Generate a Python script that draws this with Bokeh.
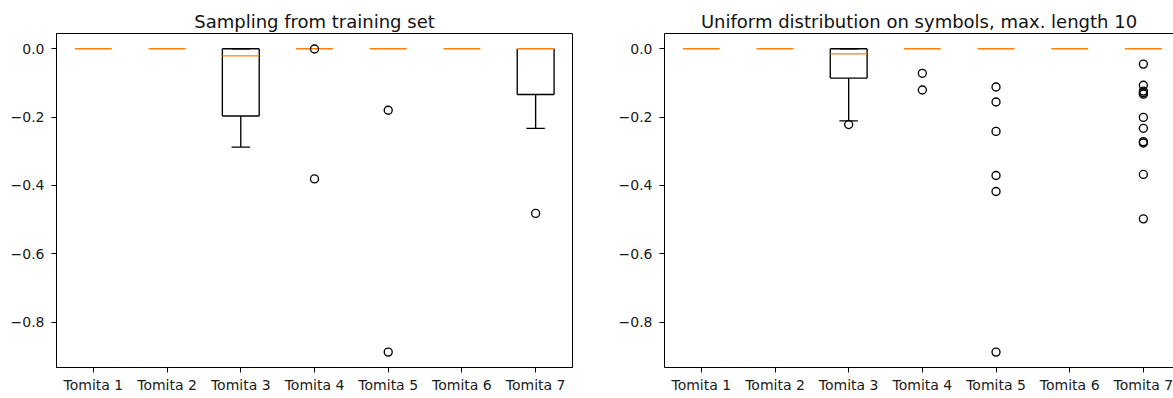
from bokeh.plotting import figure
from bokeh.layouts import row
from bokeh.models import FixedTicker, LinearAxis, Range1d
from bokeh.embed import file_html
from bokeh.resources import INLINE

# ---------------- data ----------------
categories = ["Tomita 1", "Tomita 2", "Tomita 3", "Tomita 4", "Tomita 5", "Tomita 6", "Tomita 7"]
y_ticks = [0.0, -0.2, -0.4, -0.6, -0.8]
y_tick_labels = ["0.0", "\u22120.2", "\u22120.4", "\u22120.6", "\u22120.8"]

# Panel 1: Sampling from training set
train_title = "Sampling from training set"
train_q1 = [0.0, 0.0, -0.197, 0.0, 0.0, 0.0, -0.134]
train_q3 = [0.0, 0.0, 0.0, 0.0, 0.0, 0.0, 0.0]
train_median = [0.0, 0.0, -0.021, 0.0, 0.0, 0.0, 0.0]
train_whisker_low = [0.0, 0.0, -0.288, 0.0, 0.0, 0.0, -0.233]
train_whisker_high = [0.0, 0.0, 0.0, 0.0, 0.0, 0.0, 0.0]
train_outliers = [[], [], [], [-0.001, -0.381], [-0.180, -0.888], [], [-0.482]]

# Panel 2: Uniform distribution on symbols, max. length 10
unif_title = "Uniform distribution on symbols, max. length 10"
unif_q1 = [0.0, 0.0, -0.086, 0.0, 0.0, 0.0, 0.0]
unif_q3 = [0.0, 0.0, 0.0, 0.0, 0.0, 0.0, 0.0]
unif_median = [0.0, 0.0, -0.015, 0.0, 0.0, 0.0, 0.0]
unif_whisker_low = [0.0, 0.0, -0.211, 0.0, 0.0, 0.0, 0.0]
unif_whisker_high = [0.0, 0.0, 0.0, 0.0, 0.0, 0.0, 0.0]
unif_outliers = [
    [], [], [-0.222],
    [-0.072, -0.121],
    [-0.112, -0.156, -0.242, -0.371, -0.418, -0.888],
    [],
    [-0.045, -0.107, -0.124, -0.129, -0.133, -0.201, -0.233, -0.272, -0.276, -0.368, -0.498],
]

FONT = "DejaVu Sans"
ORANGE = "#ff7f0e"
BOX_W = 0.5
CAP_W = 0.25
LW = 1.35


def make_panel(title, q1, q3, med, wl, wh, outliers, width, border_left, border_right,
               x_end, outline, border_top, title_offset=0):
    p = figure(width=width, height=398, output_backend="svg", toolbar_location=None,
               x_range=Range1d(0.5, x_end), y_range=Range1d(-0.933, 0.0445),
               min_border_left=border_left, min_border_right=border_right,
               min_border_top=border_top, min_border_bottom=31)
    p.title.text = title
    p.title.align = "center"
    p.title.text_font = FONT
    p.title.text_font_size = "18px"
    p.title.text_font_style = "normal"
    p.title.text_color = "#111111"
    p.title.offset = title_offset
    p.title.standoff = 4
    p.xgrid.visible = False
    p.ygrid.visible = False
    p.background_fill_color = "white"
    p.border_fill_color = "white"

    pos = list(range(1, len(categories) + 1))
    xax = p.below[0]
    yax = p.left[0]
    for ax in (xax, yax):
        ax.axis_line_color = "black"
        ax.axis_line_width = 1
        ax.major_tick_line_color = "black"
        ax.major_tick_line_width = 1
        ax.major_tick_in = 0
        ax.major_tick_out = 5
        ax.minor_tick_line_color = None
        ax.major_label_text_font = FONT
        ax.major_label_text_font_size = "14px"
        ax.major_label_text_color = "#1a1a1a"
    xax.ticker = FixedTicker(ticks=pos)
    xax.major_label_overrides = {x: c for x, c in zip(pos, categories)}
    xax.major_label_standoff = 4
    yax.ticker = FixedTicker(ticks=y_ticks)
    yax.major_label_overrides = {t: l for t, l in zip(y_ticks, y_tick_labels)}
    yax.major_label_standoff = 7

    if outline:
        p.outline_line_color = "black"
        p.outline_line_width = 1
    else:
        p.outline_line_color = None
        top = LinearAxis(ticker=FixedTicker(ticks=[]), axis_line_color="black",
                         axis_line_width=1, major_tick_line_color=None,
                         minor_tick_line_color=None, major_label_text_font_size="0px",
                         major_tick_out=0, major_tick_in=0, major_label_standoff=0)
        p.add_layout(top, "above")

    # black parts of each box; horizontal pieces that coincide with the median
    # are hidden under the orange median line, so they are not stroked twice
    vx0, vx1, vy0, vy1 = [], [], [], []   # vertical pieces
    hx0, hx1, hy = [], [], []             # horizontal pieces
    for x, a, b, m, lo, hi in zip(pos, q1, q3, med, wl, wh):
        L, R = x - BOX_W / 2, x + BOX_W / 2
        for y0, y1 in ((a, lo), (b, hi)):          # whiskers
            if y0 != y1:
                vx0.append(x); vx1.append(x); vy0.append(y0); vy1.append(y1)
        if a != b:                                  # box sides
            for xe in (L, R):
                vx0.append(xe); vx1.append(xe); vy0.append(a); vy1.append(b)
        for yv in (a, b):                           # box bottom / top
            if yv != m:
                hx0.append(L); hx1.append(R); hy.append(yv)
        for yv in (lo, hi):                         # caps
            if yv != m:
                hx0.append(x - CAP_W / 2); hx1.append(x + CAP_W / 2); hy.append(yv)

    p.segment(x0=vx0, x1=vx1, y0=vy0, y1=vy1, line_color="black", line_width=LW)
    p.segment(x0=hx0, x1=hx1, y0=hy, y1=hy, line_color="black", line_width=LW)
    # medians
    p.segment(x0=[x - BOX_W / 2 for x in pos], x1=[x + BOX_W / 2 for x in pos],
              y0=med, y1=med, line_color=ORANGE, line_width=LW)
    # fliers
    fx, fy = [], []
    for x, outs in zip(pos, outliers):
        for v in outs:
            fx.append(x)
            fy.append(v)
    p.scatter(x=fx, y=fy, marker="circle", size=8, fill_color=None,
              line_color="black", line_width=LW)
    return p


p1 = make_panel(train_title, train_q1, train_q3, train_median, train_whisker_low,
                train_whisker_high, train_outliers, width=610, border_left=56,
                border_right=38, x_end=7.5, outline=True, border_top=33)
p2 = make_panel(unif_title, unif_q1, unif_q3, unif_median, unif_whisker_low,
                unif_whisker_high, unif_outliers, width=563, border_left=54,
                border_right=0, x_end=7.409, outline=False, border_top=33, title_offset=3)

layout = row(p1, p2)
open("out.html", "w").write(file_html(layout, INLINE))
